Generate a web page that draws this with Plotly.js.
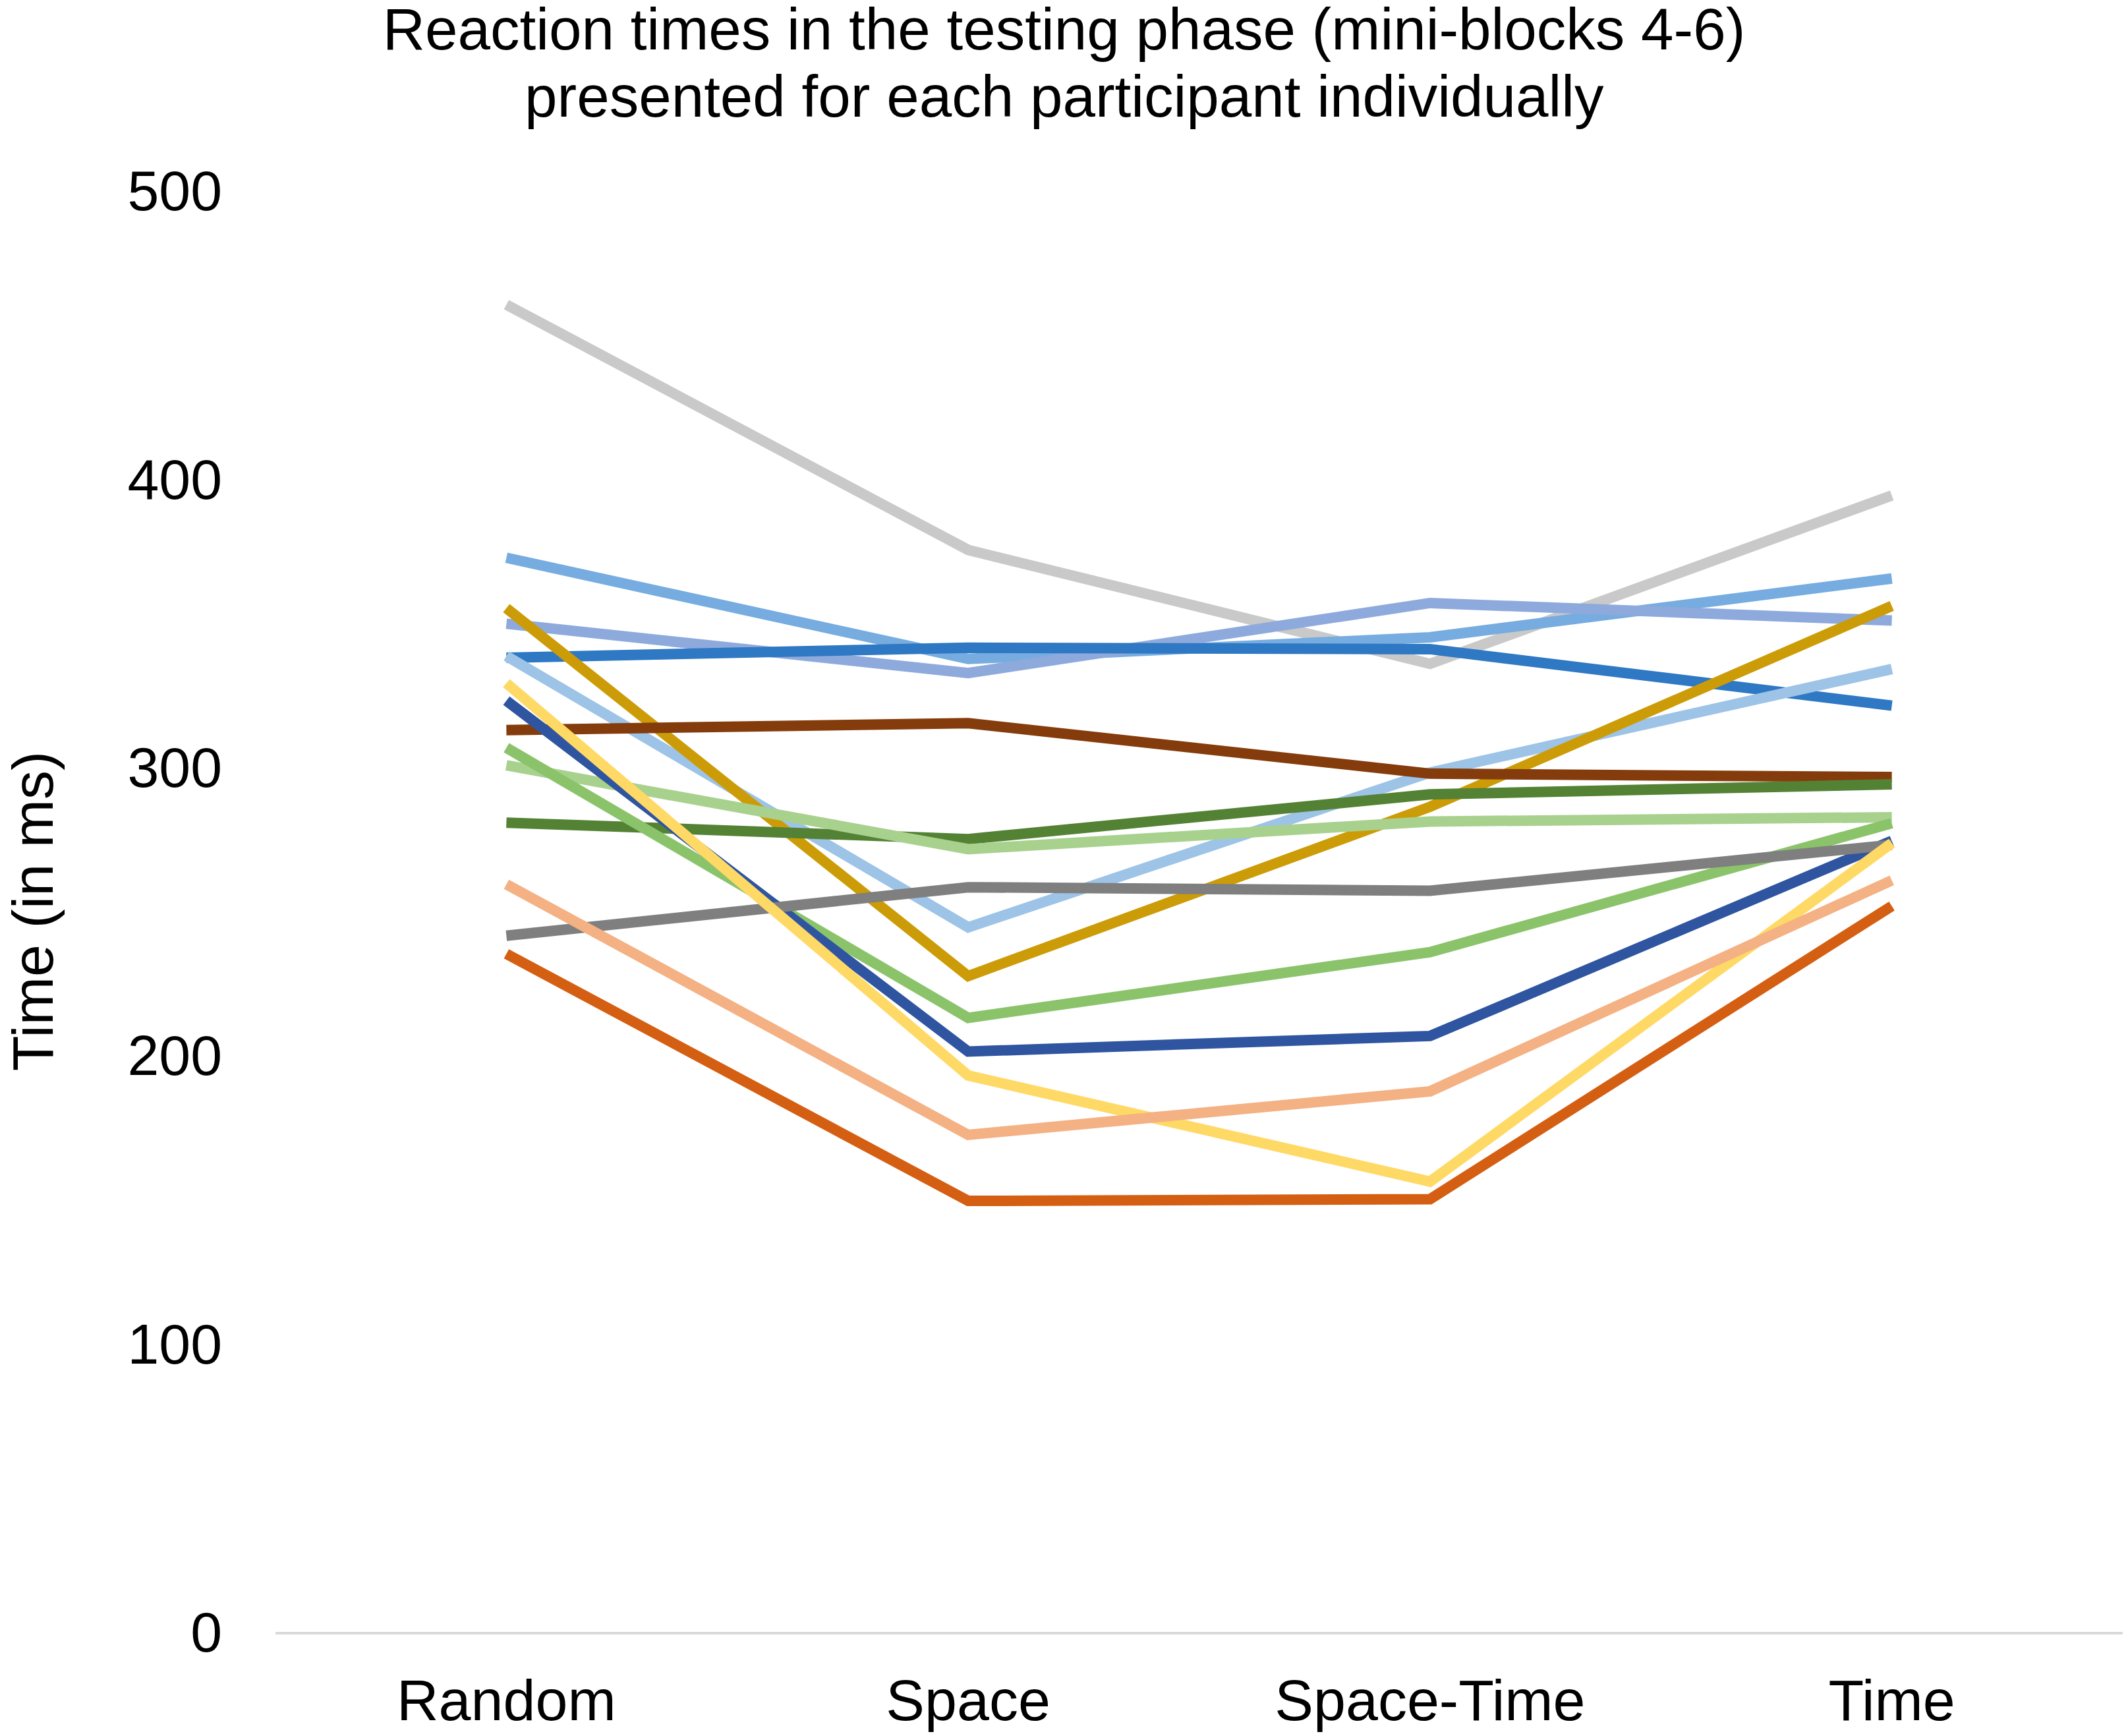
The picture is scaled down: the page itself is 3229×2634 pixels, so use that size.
<!DOCTYPE html>
<html>
<head>
<meta charset="utf-8">
<script src="https://cdn.plot.ly/plotly-3.0.1.min.js"></script>
<style>
  html, body { margin: 0; padding: 0; background: #ffffff; }
  #chart { width: 3229px; height: 2634px; }
</style>
</head>
<body>
<div id="chart"></div>
<script>
// Categories (conditions)
const categories = ["Random", "Space", "Space-Time", "Time"];

// Reaction times (ms) per participant
const p01 = [460.4, 375.3, 335.8, 394.2];
const p02 = [372.6, 337.5, 345.0, 365.4];
const p03 = [349.7, 332.6, 356.9, 350.8];
const p04 = [337.9, 341.4, 340.9, 321.3];
const p05 = [338.5, 244.4, 298.1, 334.0];
const p06 = [355.1, 227.5, 286.2, 355.9];
const p07 = [312.8, 315.2, 297.7, 296.5];
const p08 = [280.7, 275.0, 290.5, 294.0];
const p09 = [300.6, 271.5, 281.1, 282.6];
const p10 = [306.7, 213.0, 235.8, 280.5];
const p11 = [323.0, 201.3, 206.7, 274.4];
const p12 = [241.5, 258.3, 257.1, 273.0];
const p13 = [329.1, 193.0, 156.2, 273.6];
const p14 = [259.3, 172.4, 187.5, 260.7];
const p15 = [235.2, 149.5, 150.1, 251.8];

const seriesValues = [p01, p02, p03, p04, p05, p06, p07, p08, p09, p10, p11, p12, p13, p14, p15];
const seriesNames = ["P1", "P2", "P3", "P4", "P5", "P6", "P7", "P8", "P9", "P10", "P11", "P12", "P13", "P14", "P15"];
const seriesColors = [
  "#c9c9c9", "#76acdf", "#8eaadc", "#2e78c4", "#9dc3e6",
  "#cc9c08", "#843c0c", "#548235", "#a9d18e", "#8bc36b",
  "#2f55a0", "#7f7f7f", "#ffd966", "#f4b183", "#d45f12"
];

const yTicks = [0, 100, 200, 300, 400, 500];

const titleLine1 = "Reaction times in the testing phase (mini-blocks 4-6)";
const titleLine2 = "presented for each participant individually";

const FONT = "Liberation Sans, Arial, Helvetica, sans-serif";

const traces = seriesValues.map((vals, i) => ({
  type: "scatter",
  mode: "lines",
  name: seriesNames[i],
  x: categories,
  y: vals,
  line: { color: seriesColors[i], width: 16, shape: "linear" },
  hoverinfo: "x+y+name"
}));

const W = 3229, H = 2634;
const M = { l: 418, r: 8, t: 289, b: 158 };
const plotW = W - M.l - M.r;
const plotH = H - M.t - M.b;

const layout = {
  width: W,
  height: H,
  paper_bgcolor: "#ffffff",
  plot_bgcolor: "#ffffff",
  showlegend: false,
  font: { family: FONT, color: "#000000", size: 88 },
  margin: { l: M.l, r: M.r, t: M.t, b: M.b, pad: 0 },
  title: {
    text: titleLine1,
    font: { family: FONT, size: 89, color: "#000000" },
    x: 0.5,
    xref: "container",
    xanchor: "center",
    y: 0.995,
    yref: "container",
    yanchor: "top"
  },
  annotations: [{
    text: titleLine2,
    font: { family: FONT, size: 89, color: "#000000" },
    showarrow: false,
    xref: "paper",
    yref: "paper",
    x: (W / 2 - M.l) / plotW,
    xanchor: "center",
    y: 1 + (M.t - 146) / plotH,
    yanchor: "middle"
  }],
  xaxis: {
    type: "category",
    categoryarray: categories,
    range: [-0.5, 3.5],
    showgrid: false,
    zeroline: false,
    showline: true,
    linecolor: "#d9d9d9",
    linewidth: 4,
    ticks: "",
    ticklabelstandoff: 24,
    tickfont: { family: FONT, size: 88, color: "#000000" },
    fixedrange: true
  },
  yaxis: {
    range: [0, 500],
    tickvals: yTicks,
    ticktext: yTicks.map(String),
    showgrid: false,
    zeroline: false,
    showline: false,
    ticks: "",
    ticklabelstandoff: 80,
    tickfont: { family: FONT, size: 86, color: "#000000" },
    title: {
      text: "Time (in ms)",
      font: { family: FONT, size: 88, color: "#000000" },
      standoff: 110
    },
    fixedrange: true
  }
};

Plotly.newPlot("chart", traces, layout, { staticPlot: true, displayModeBar: false });
</script>
</body>
</html>
